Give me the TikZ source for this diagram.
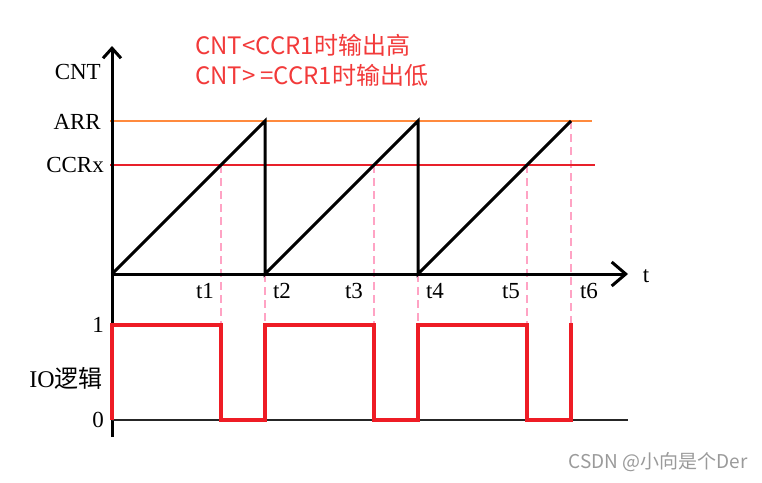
\documentclass[tikz,border=0pt]{standalone}
\usepackage{fontspec}
\setmainfont{Liberation Serif}
\newfontfamily\cjk{Noto Sans CJK SC}
\usetikzlibrary{arrows.meta}
\definecolor{arrorange}{HTML}{FF8A3D}
\definecolor{sigred}{HTML}{EE1C25}
\definecolor{ccrred}{HTML}{E8202A}
\definecolor{dashpink}{HTML}{FFA3C4}
\definecolor{txtred}{HTML}{F23A3A}
\definecolor{wmgray}{HTML}{9A9A9A}
\begin{document}
\begin{tikzpicture}[x=1pt,y=-1pt,
  axis/.style={line width=3pt, black},
  ramp/.style={line width=3pt, black, line join=miter},
  guide/.style={dashpink, line width=2.8pt, dash pattern=on 8pt off 5pt},
  levelline/.style={line width=2.5pt},
  sig/.style={sigred, line width=3.5pt, line join=miter},
  lab/.style={font=\fontsize{23}{25}\selectfont, inner sep=0pt},
  note/.style={font=\cjk\fontsize{24}{26}\selectfont, text=txtred, inner sep=0pt, anchor=west},
  ]
\useasboundingbox (0,0) rectangle (762,482);
% guides (pink dashed)
\draw[guide] (221,165) -- (221,420);
\draw[guide] (265,274) -- (265,420);
\draw[guide] (374,165) -- (374,420);
\draw[guide] (418,274) -- (418,420);
\draw[guide] (527,165) -- (527,420);
\draw[guide] (571,121) -- (571,420);
% ARR and CCRx levels
\draw[levelline, arrorange] (110,121) -- (592,121);
\draw[levelline, ccrred] (110,165) -- (595,165);
% sawtooth
\draw[ramp] (112,274) -- (265,121) -- (265,274) -- (418,121) -- (418,274) -- (571,121);
% axes
\draw[axis, -{Straight Barb[length=10pt,width=18pt]}] (112,437) -- (112,46);
\draw[axis, -{Straight Barb[length=14pt,width=24pt]}] (112,274) -- (628,274);
\draw[line width=2.5pt, black!85] (112,420) -- (628,420);
% IO signal
\draw[sig] (112,420) -- (112,325) -- (221,325) -- (221,420) -- (265,420) -- (265,325)
  -- (374,325) -- (374,420) -- (418,420) -- (418,325) -- (527,325) -- (527,420)
  -- (571,420) -- (571,323);
% labels
\node[lab, anchor=east] (cnt) at (101,72) {CNT};
\node[lab, anchor=east] (arr) at (101,122) {ARR};
\node[lab, anchor=east] (ccrx) at (104,165) {CCRx};
\node[lab] (tax) at (646,276) {t};
\node[lab] (lt1) at (205,291) {t1};
\node[lab] (lt2) at (282,291) {t2};
\node[lab] (lt3) at (354,291) {t3};
\node[lab] (lt4) at (435,291) {t4};
\node[lab] (lt5) at (511,291) {t5};
\node[lab] (lt6) at (589,291) {t6};
\node[lab] (one) at (98,325) {1};
\node[lab] (zero) at (98,420) {0};
\node[lab, font=\fontsize{24}{26}\selectfont] (io) at (66,378) {IO{\cjk 逻辑}};
\node[note] (n1) at (195,45) {CNT<CCR1时输出高};
\node[note] (n2) at (195,75) {CNT>\kern5pt=CCR1时输出低};
\node[font=\cjk\fontsize{19}{21}\selectfont, text=wmgray, inner sep=0pt, anchor=east] (wm) at (748,462) {CSDN @小向是个Der};
\end{tikzpicture}
\end{document}
